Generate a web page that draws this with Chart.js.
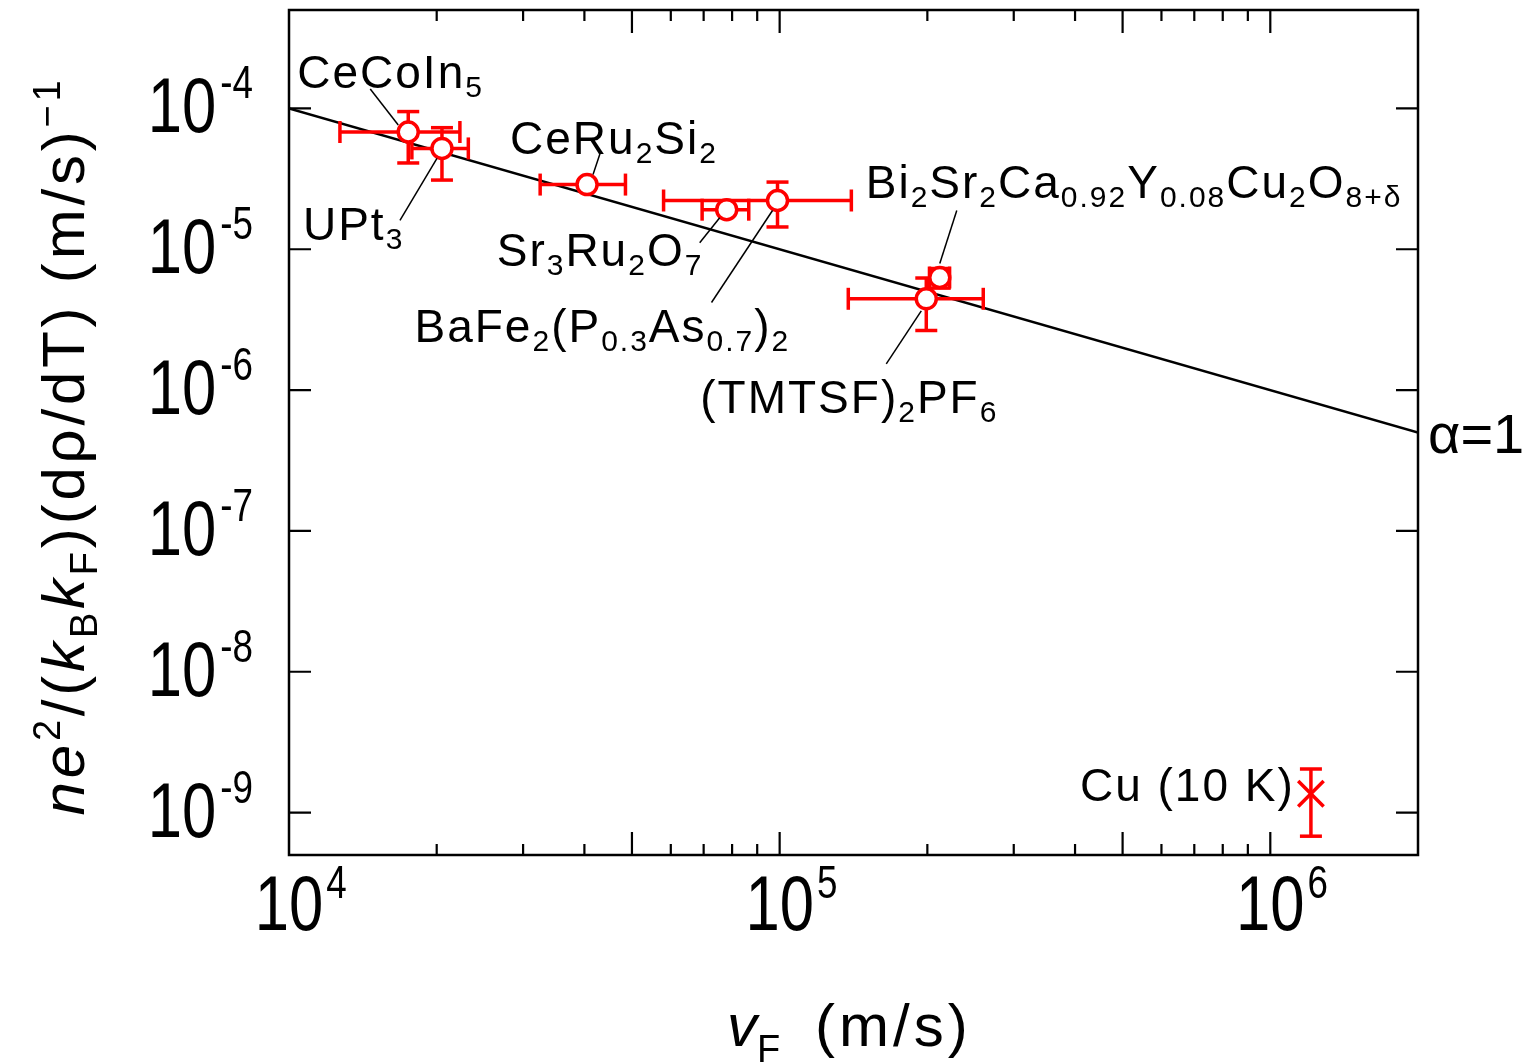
<!DOCTYPE html>
<html>
<head>
<meta charset="utf-8">
<script src="https://cdn.jsdelivr.net/npm/chart.js@4.4.1/dist/chart.umd.min.js"></script>
<style>
  html, body { margin: 0; padding: 0; background: #fff; }
  #wrap { width: 1538px; height: 1064px; }
</style>
</head>
<body>
<div id="wrap"><canvas id="chart" width="1538" height="1064"></canvas></div>
<script>
// --- data ---
const materials = ['CeCoIn_{5}', 'UPt_{3}', 'CeRu_{2}Si_{2}', 'Sr_{3}Ru_{2}O_{7}',
  'BaFe_{2}(P_{0.3}As_{0.7})_{2}', 'Bi_{2}Sr_{2}Ca_{0.92}Y_{0.08}Cu_{2}O_{8+δ}', '(TMTSF)_{2}PF_{6}'];
const vF = [1.75e4, 2.05e4, 4.05e4, 7.8e4, 9.9e4, 2.12e5, 1.99e5];        // m/s
const vFErr = [0.48e4, 0.27e4, 0.8e4, 0.85e4, 4.1e4, 1.0e4, 0.61e5];
const slope = [6.8e-5, 5.2e-5, 2.88e-5, 1.91e-5, 2.22e-5, 6.3e-6, 4.45e-6]; // (m/s)^-1
const slopeErr = [2.7e-5, 2.1e-5, 0, 0, 0.78e-5, 1.0e-6, 1.8e-6];

const cuLabel = 'Cu (10 K)';
const cuV = [1.21e6];
const cuS = [1.36e-9];
const cuErr = [0.68e-9];

// alpha = 1 line
const lineV = [1e4, 2e6];
const lineS = [1e-4, 5e-7];

const xExp = [4, 5, 6];
const yExp = [-9, -8, -7, -6, -5, -4];

// --- styling / placement ---
const RED = '#ff0000';
const FONT = '"Liberation Sans", Arial, sans-serif';

// label text (baseline-left) and leader line, as pixel offsets from the marker
const labelPos = [
  { tx: -111, ty: -44, l: [-38, -43, -10, -7] },
  { tx: -139, ty: 92, l: [-42, 72, -5, 10] },
  { tx: -77, ty: -31, l: [13, -31, 6, -10] },
  { tx: -230, ty: 56, l: [-27, 33, -7, 8] },
  { tx: -363, ty: 142, l: [-66, 102, -5, 10] },
  { tx: -74, ty: -80, l: [17, -67, 0, -14] },
  { tx: -226, ty: 114, l: [-40, 65, -5, 12] }
];
const cuPos = { tx: -231, ty: 7 };

function parseRich(s) {
  const runs = [];
  const re = /([_^])\{([^}]*)\}|([^_^]+)/g;
  let m;
  while ((m = re.exec(s))) {
    if (m[1]) runs.push({ t: m[2], k: m[1] === '_' ? 'sub' : 'sup' });
    else runs.push({ t: m[3], k: 'n' });
  }
  return runs;
}

// draws runs of text left to right, returns width
function drawRuns(ctx, runs, x, y, o, measureOnly) {
  let cx = x;
  runs.forEach(r => {
    const small = r.k === 'sub' || r.k === 'sup';
    const size = small ? o.small : o.size;
    const dy = r.k === 'sub' ? o.subDy : r.k === 'sup' ? o.supDy : 0;
    ctx.font = (r.it ? 'italic ' : '') + size + 'px ' + FONT;
    ctx.letterSpacing = (o.spacing || 0) + 'px';
    if (!measureOnly) ctx.fillText(r.t, cx, y + dy);
    cx += ctx.measureText(r.t).width;
  });
  ctx.letterSpacing = '0px';
  return cx - x;
}

const labelStyle = { size: 46, small: 30, subDy: 9, supDy: -16, spacing: 2 };

const frameAndTicks = {
  id: 'frameAndTicks',
  beforeDatasetsDraw(chart) {
    const { ctx, chartArea: a, scales: { x, y } } = chart;
    ctx.save();
    ctx.strokeStyle = '#000';
    ctx.lineWidth = 2.5;
    ctx.strokeRect(a.left, a.top, a.right - a.left, a.bottom - a.top);
    ctx.lineWidth = 2.2;
    ctx.beginPath();
    // x ticks, bottom and top, pointing in
    for (let e = 4; e <= 6; e++) {
      for (let m = 1; m <= 9; m++) {
        const v = m * Math.pow(10, e);
        if (v <= 1e4 || v >= 2e6) continue;
        const px = x.getPixelForValue(v);
        const len = (m === 1 || m === 5) ? 23 : 11;
        ctx.moveTo(px, a.bottom); ctx.lineTo(px, a.bottom - len);
        ctx.moveTo(px, a.top); ctx.lineTo(px, a.top + len);
      }
    }
    // y ticks, left and right
    yExp.forEach(e => {
      const py = y.getPixelForValue(Math.pow(10, e));
      ctx.moveTo(a.left, py); ctx.lineTo(a.left + 22, py);
      ctx.moveTo(a.right, py); ctx.lineTo(a.right - 22, py);
    });
    ctx.stroke();

    // tick labels
    ctx.fillStyle = '#000';
    ctx.textBaseline = 'alphabetic';
    ctx.textAlign = 'left';
    const sx = 0.8;
    const put = (t, size, px, py) => {
      ctx.save();
      ctx.font = size + 'px ' + FONT;
      ctx.translate(px, py);
      ctx.scale(sx, 1);
      ctx.fillText(t, 0, 0);
      ctx.restore();
    };
    const wid = (t, size) => { ctx.font = size + 'px ' + FONT; return ctx.measureText(t).width * sx; };
    yExp.forEach(e => {
      const py = y.getPixelForValue(Math.pow(10, e));
      const sup = '-' + Math.abs(e);
      const wSup = wid(sup, 46);
      const w10 = wid('10', 77);
      const right = a.left - 36;
      put(sup, 46, right - wSup, py - 10);
      put('10', 77, right - wSup - 4 - w10, py + 24);
    });
    xExp.forEach(e => {
      const px = x.getPixelForValue(Math.pow(10, e));
      const w10 = wid('10', 77);
      put('10', 77, px - w10 / 2, a.bottom + 75);
      put(String(e), 46, px + w10 / 2 + 3, a.bottom + 43);
    });
    ctx.restore();
  }
};

const errorBars = {
  id: 'errorBars',
  afterDatasetDraw(chart, args) {
    if (args.index !== 2) return; // right after the alpha=1 line, before the markers
    const { ctx, scales: { x, y } } = chart;
    const cap = 11;
    ctx.save();
    ctx.strokeStyle = RED;
    ctx.lineWidth = 3.5;
    const seg = (x1, y1, x2, y2) => { ctx.beginPath(); ctx.moveTo(x1, y1); ctx.lineTo(x2, y2); ctx.stroke(); };
    const draw = (vx, dx, vy, dy) => {
      const px = x.getPixelForValue(vx), py = y.getPixelForValue(vy);
      if (dx) {
        const l = x.getPixelForValue(vx - dx), r = x.getPixelForValue(vx + dx);
        seg(l, py, r, py); seg(l, py - cap, l, py + cap); seg(r, py - cap, r, py + cap);
      }
      if (dy) {
        const t = y.getPixelForValue(vy + dy), b = y.getPixelForValue(vy - dy);
        seg(px, t, px, b); seg(px - cap, t, px + cap, t); seg(px - cap, b, px + cap, b);
      }
    };
    vF.forEach((v, i) => draw(v, vFErr[i], slope[i], slopeErr[i]));
    cuV.forEach((v, i) => draw(v, 0, cuS[i], cuErr[i]));
    ctx.restore();
  }
};

const annotations = {
  id: 'annotations',
  afterDraw(chart) {
    const { ctx, scales: { x, y } } = chart;
    ctx.save();
    ctx.fillStyle = '#000';
    ctx.strokeStyle = '#000';
    ctx.textAlign = 'left';
    ctx.textBaseline = 'alphabetic';
    materials.forEach((name, i) => {
      const px = x.getPixelForValue(vF[i]), py = y.getPixelForValue(slope[i]);
      const p = labelPos[i];
      ctx.lineWidth = 1.5;
      ctx.beginPath();
      ctx.moveTo(px + p.l[0], py + p.l[1]);
      ctx.lineTo(px + p.l[2], py + p.l[3]);
      ctx.stroke();
      drawRuns(ctx, parseRich(name), px + p.tx, py + p.ty, labelStyle);
    });
    const cx = x.getPixelForValue(cuV[0]), cy = y.getPixelForValue(cuS[0]);
    drawRuns(ctx, parseRich(cuLabel), cx + cuPos.tx, cy + cuPos.ty, labelStyle);

    // alpha = 1 next to the end of the line
    const lx = x.getPixelForValue(lineV[1]), ly = y.getPixelForValue(lineS[1]);
    ctx.font = '56px ' + FONT;
    ctx.fillText('α=1', lx + 10, ly + 20);

    // x title
    const tStyle = { size: 60, small: 38, subDy: 16, supDy: -24, spacing: 0 };
    drawRuns(ctx, [{ t: 'v', it: 1 }, { t: 'F', k: 'sub' }], 727, 1046, tStyle);
    drawRuns(ctx, [{ t: '(m/s)' }], 815, 1046, { size: 60, small: 38, spacing: 4 });

    // y title, rotated
    const yRuns = [
      { t: 'n', it: 1 }, { t: 'e', it: 1 }, { t: '2', k: 'sup' }, { t: '/(' },
      { t: 'k', it: 1 }, { t: 'B', k: 'sub' }, { t: 'k', it: 1 }, { t: 'F', k: 'sub' },
      { t: ')(dρ/dT) (m/s)' }, { t: '−1', k: 'sup' }
    ];
    const yStyle = { size: 60, small: 38, subDy: 13, supDy: -24, spacing: 3.8 };
    const total = drawRuns(ctx, yRuns, 0, 0, yStyle, true);
    ctx.translate(84, 446 + total / 2);
    ctx.rotate(-Math.PI / 2);
    drawRuns(ctx, yRuns, 0, 0, yStyle);
    ctx.restore();
  }
};

new Chart(document.getElementById('chart'), {
  type: 'scatter',
  data: {
    datasets: [
      {
        label: 'materials',
        data: vF.map((v, i) => ({ x: v, y: slope[i] })),
        pointStyle: 'circle',
        pointRadius: 10,
        pointBorderWidth: 3.5,
        pointBorderColor: RED,
        pointBackgroundColor: '#fff'
      },
      {
        label: 'Cu',
        data: cuV.map((v, i) => ({ x: v, y: cuS[i] })),
        pointStyle: 'crossRot',
        pointRadius: 18,
        pointBorderWidth: 3.5,
        pointBorderColor: RED,
        pointBackgroundColor: RED
      },
      {
        type: 'line',
        label: 'alpha=1',
        data: lineV.map((v, i) => ({ x: v, y: lineS[i] })),
        borderColor: '#000',
        borderWidth: 2.5,
        pointRadius: 0,
        fill: false,
        tension: 0
      }
    ]
  },
  options: {
    responsive: false,
    animation: false,
    layout: { autoPadding: false, padding: { left: 289, right: 120, top: 10, bottom: 209 } },
    scales: {
      x: { type: 'logarithmic', min: 1e4, max: 2e6, display: false },
      y: { type: 'logarithmic', min: 5e-10, max: 5e-4, display: false }
    },
    plugins: { legend: { display: false }, tooltip: { enabled: false } }
  },
  plugins: [frameAndTicks, errorBars, annotations]
});
</script>
</body>
</html>
